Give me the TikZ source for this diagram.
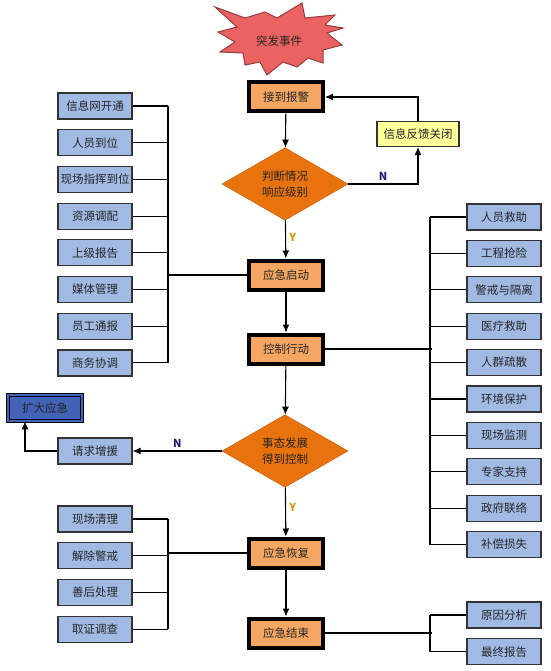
\documentclass[tikz,border=0pt]{standalone}
\usepackage{fontspec}
\setmainfont{Noto Sans CJK SC}
\usepackage{tikz}
\usetikzlibrary{arrows, arrows.meta, shapes.geometric, positioning}

\definecolor{stagefill}{RGB}{244,166,98}
\definecolor{askfill}{RGB}{232,114,12}
\definecolor{askline}{RGB}{190,90,10}
\definecolor{taskfill}{RGB}{160,186,228}
\definecolor{notefill}{RGB}{255,255,153}
\definecolor{bigfill}{RGB}{66,98,184}
\definecolor{burstfill}{RGB}{234,98,98}
\definecolor{burstline}{RGB}{150,60,60}
\definecolor{nolabel}{RGB}{24,34,110}
\definecolor{yeslabel}{RGB}{196,156,0}

\tikzstyle{line} = [draw, line width=1.1pt, -{Latex[length=8pt, width=7pt]}]
\tikzstyle{wire} = [draw, line width=1.1pt]

\begin{document}
\begin{tikzpicture}[
            x = 1pt, y = -1pt, % pixel grid of the reference
            node distance = 9.5pt, % gap between list boxes
            font = \fontsize{11.5}{16}\selectfont,
            text = black!85
        ]

        \tikzstyle{stage}=[
            rectangle,
            draw = black,
            line width = 4pt,
            fill = stagefill,
            minimum width = 74pt,
            minimum height = 29pt,
            inner sep = 0pt
        ]
        \tikzstyle{check}=[
            diamond,
            draw = askline,
            fill = askfill,
            minimum width = 126pt,
            minimum height = 72pt,
            inner sep = 0pt,
            align = center
        ]
        \tikzstyle{task}=[
            rectangle,
            draw = black!80,
            line width = 1.2pt,
            fill = taskfill,
            minimum width = 74pt,
            minimum height = 26pt,
            inner sep = 0pt
        ]
        \tikzstyle{yn}=[font = \fontsize{11}{13}\selectfont\bfseries]

        \useasboundingbox (0,0) rectangle (550,671);

        % the event
        \filldraw[fill = burstfill, draw = burstline, line width = 1pt]
            (215,7) -- (245,18) -- (265,12) -- (277,18) -- (302,3) -- (305,18)
            -- (335,15) -- (325,25) -- (343,28) -- (327,33) -- (342,45)
            -- (323,50) -- (323,63) -- (308,58) -- (297,67) -- (283,62)
            -- (267,75) -- (260,62) -- (245,65) -- (243,53) -- (220,52)
            -- (235,42) -- (218,32) -- (237,27) -- cycle;
        \node (ev) at (279,41) {突发事件};

        % main column
        \node[stage] (alarm) at (286,97) {接到报警};
        \node[check] (judge) at (285,184) {判断情况\\响应级别};
        \node[stage] (start) at (286,275) {应急启动};
        \node[stage] (control) at (286,349) {控制行动};
        \node[check] (ctrlq) at (285,451) {事态发展\\得到控制};
        \node[stage] (recover) at (286,553) {应急恢复};
        \node[stage] (finish) at (286,633) {应急结束};

        \node[task, fill = notefill, minimum width = 82pt, minimum height = 25pt] (feedback) at (418,134) {信息反馈关闭};
        \node[task] (ask) at (95,451) {请求增援};
        \node[task, fill = bigfill, draw = black, line width = 0.8pt,
              double = bigfill, double distance = 1.6pt] (expand) at (45,408) {扩大应急};

        % start-up tasks
        \node[task] (s1) at (95,106) {信息网开通};
        \node[task] (s2) [below=of s1] {人员到位};
        \node[task] (s3) [below=of s2] {现场指挥到位};
        \node[task] (s4) [below=of s3] {资源调配};
        \node[task] (s5) [below=of s4] {上级报告};
        \node[task] (s6) [below=of s5] {媒体管理};
        \node[task] (s7) [below=of s6] {员工通报};
        \node[task] (s8) [below=of s7] {商务协调};

        % control tasks
        \node[task] (c1) at (504,217) {人员救助};
        \node[task] (c2) [below=9.2pt of c1] {工程抢险};
        \node[task] (c3) [below=9.2pt of c2] {警戒与隔离};
        \node[task] (c4) [below=9.2pt of c3] {医疗救助};
        \node[task] (c5) [below=9.2pt of c4] {人群疏散};
        \node[task] (c6) [below=9.2pt of c5] {环境保护};
        \node[task] (c7) [below=9.2pt of c6] {现场监测};
        \node[task] (c8) [below=9.2pt of c7] {专家支持};
        \node[task] (c9) [below=9.2pt of c8] {政府联络};
        \node[task] (c10) [below=9.2pt of c9] {补偿损失};

        % recovery tasks
        \node[task] (r1) at (95,519) {现场清理};
        \node[task] (r2) [below=of r1] {解除警戒};
        \node[task] (r3) [below=of r2] {善后处理};
        \node[task] (r4) [below=of r3] {取证调查};

        % closing tasks
        \node[task] (e1) at (504,615) {原因分析};
        \node[task] (e2) [below=of e1] {最终报告};

        % flow
        \draw[line] (alarm) -- (judge);
        \draw[line] (judge.east) -| node[yn, pos=0.25, above, text=nolabel] {N} (feedback.south);
        \draw[line] (feedback.north) |- (alarm.east);
        \draw[line] (judge) -- node[yn, pos=0.45, right, text=yeslabel] {Y} (start);
        \draw[line] (start) -- (control);
        \draw[line] (control) -- (ctrlq);
        \draw[line] (ctrlq.west) -- node[yn, above, text=nolabel] {N} (ask.east);
        \draw[line] (ask.west) -| ([xshift=-20pt]expand.south);
        \draw[line] (ctrlq) -- node[yn, pos=0.4, right, text=yeslabel] {Y} (recover);
        \draw[line] (recover) -- (finish);

        % bus to the start-up tasks
        \coordinate (sbus) at (168,275);
        \draw[wire] (start.west) -- (sbus);
        \draw[wire] (s1.east -| sbus) -- (s8.east -| sbus);
        \draw[wire] (s1.east) -- (s1.east -| sbus);
        \draw[wire] (s2.east) -- (s2.east -| sbus);
        \draw[wire] (s3.east) -- (s3.east -| sbus);
        \draw[wire] (s4.east) -- (s4.east -| sbus);
        \draw[wire] (s5.east) -- (s5.east -| sbus);
        \draw[wire] (s6.east) -- (s6.east -| sbus);
        \draw[wire] (s7.east) -- (s7.east -| sbus);
        \draw[wire] (s8.east) -- (s8.east -| sbus);

        % bus to the control tasks
        \coordinate (cbus) at (430,349);
        \draw[wire] (control.east) -- ([xshift=2pt]cbus);
        \draw[wire] (c1.west -| cbus) -- (c10.west -| cbus);
        \draw[wire] (c1.west) -- (c1.west -| cbus);
        \draw[wire] (c2.west) -- (c2.west -| cbus);
        \draw[wire] (c3.west) -- (c3.west -| cbus);
        \draw[wire] (c4.west) -- (c4.west -| cbus);
        \draw[wire] (c5.west) -- (c5.west -| cbus);
        \draw[wire] (c6.west) -- (c6.west -| cbus);
        \draw[wire] (c7.west) -- (c7.west -| cbus);
        \draw[wire] (c8.west) -- (c8.west -| cbus);
        \draw[wire] (c9.west) -- (c9.west -| cbus);
        \draw[wire] (c10.west) -- (c10.west -| cbus);

        % bus to the recovery tasks
        \coordinate (rbus) at (168,553);
        \draw[wire] (recover.west) -- (rbus);
        \draw[wire] (r1.east -| rbus) -- (r4.east -| rbus);
        \draw[wire] (r1.east) -- (r1.east -| rbus);
        \draw[wire] (r2.east) -- (r2.east -| rbus);
        \draw[wire] (r3.east) -- (r3.east -| rbus);
        \draw[wire] (r4.east) -- (r4.east -| rbus);

        % bus to the closing tasks
        \coordinate (ebus) at (430,633);
        \draw[wire] (finish.east) -- ([xshift=2pt]ebus);
        \draw[wire] (e1.west -| ebus) -- (e2.west -| ebus);
        \draw[wire] (e1.west) -- (e1.west -| ebus);
        \draw[wire] (e2.west) -- (e2.west -| ebus);

    \end{tikzpicture}
\end{document}
